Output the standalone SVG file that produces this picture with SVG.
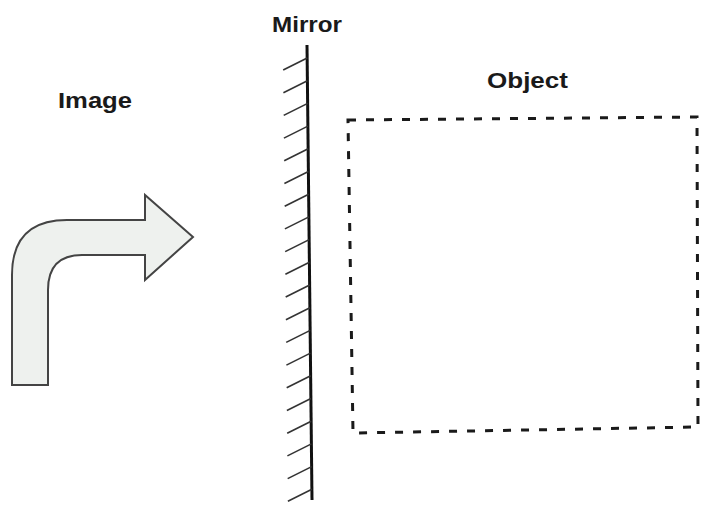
<svg xmlns="http://www.w3.org/2000/svg" width="705" height="510" viewBox="0 0 705 510">
<style>
.lbl{font-family:"Liberation Sans",Arial,sans-serif;font-size:22px;font-weight:bold;fill:#1a1a1a}
.hatch{stroke:#333;stroke-width:1.6;fill:none}
</style>
<rect width="705" height="510" fill="#ffffff"/>
<g id="image">
<path d="M12,385 L12,275 Q12,220 67,220 L145,220 L145,195 L193,237 L145,280 L145,255 L82,255 Q48,255 48,290 L48,385 Z" fill="#eef1ee" stroke="#444" stroke-width="2" stroke-linejoin="miter"/>
<text class="lbl" x="58" y="108" textLength="74" lengthAdjust="spacingAndGlyphs">Image</text>
</g>
<g id="mirror">
<line x1="307" y1="45" x2="312" y2="500" stroke="#111" stroke-width="3"/>
<g class="hatch">
<path d="M307.2,58 l-24,12"/>
<path d="M307.4,80.7 l-24,12"/>
<path d="M307.7,103.4 l-24,12"/>
<path d="M307.9,126.1 l-24,12"/>
<path d="M308.2,148.8 l-24,12"/>
<path d="M308.4,171.5 l-24,12"/>
<path d="M308.7,194.2 l-24,12"/>
<path d="M308.9,216.9 l-24,12"/>
<path d="M309.2,239.6 l-24,12"/>
<path d="M309.4,262.3 l-24,12"/>
<path d="M309.7,285 l-24,12"/>
<path d="M309.9,307.7 l-24,12"/>
<path d="M310.2,330.4 l-24,12"/>
<path d="M310.4,353.1 l-24,12"/>
<path d="M310.7,375.8 l-24,12"/>
<path d="M310.9,398.5 l-24,12"/>
<path d="M311.2,421.2 l-24,12"/>
<path d="M311.4,443.9 l-24,12"/>
<path d="M311.7,466.6 l-24,12"/>
<path d="M311.9,489.3 l-24,12"/>
</g>
<text class="lbl" x="272" y="32" textLength="70" lengthAdjust="spacingAndGlyphs">Mirror</text>
</g>
<g id="object">
<polygon points="348,120 697,117 698,427 353,433" fill="none" stroke="#1a1a1a" stroke-width="3" stroke-dasharray="8,10"/>
<text class="lbl" x="487" y="88" textLength="81" lengthAdjust="spacingAndGlyphs">Object</text>
</g>
<g id="connectors"></g>
</svg>
